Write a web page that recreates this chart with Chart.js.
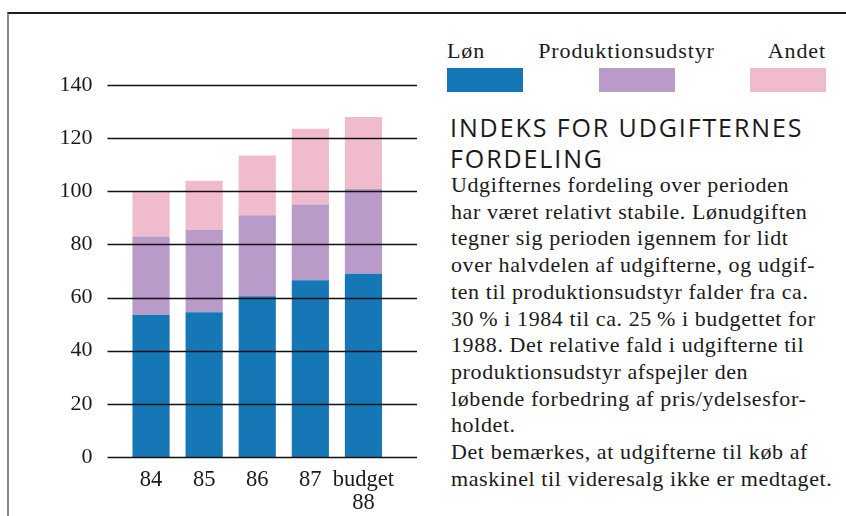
<!DOCTYPE html>
<html>
<head>
<meta charset="utf-8">
<script src="https://cdn.jsdelivr.net/npm/chart.js@4"></script>
<style>
  body { margin: 0; width: 846px; height: 516px; background: #fff; position: relative; overflow: hidden; }
  #frame { position: absolute; left: 7px; top: 12px; right: 0; bottom: -5px;
           border-top: 2px solid #1c1c1c; border-left: 2px solid #8a8a8a; }
  #chartBox { position: absolute; left: 0; top: 0; width: 440px; height: 516px; }
  #legend { position: absolute; left: 447px; top: 37.6px; width: 379px; display: flex; justify-content: space-between;
            font-family: "Liberation Serif", serif; font-size: 22px; letter-spacing: 0.9px; color: #1a1a1a; }
  #legend .item { display: flex; flex-direction: column; }
  #legend .item span { line-height: 26px; }
  #legend .sw { width: 76px; height: 24px; margin-top: 4.4px; }
  #title { position: absolute; left: 450px; top: 111.8px; font-family: "Open Sans", sans-serif; font-size: 25px;
           line-height: 31px; color: #1a1a1a; letter-spacing: 1.9px; white-space: nowrap; }
  #body { position: absolute; left: 451px; top: 172px; font-family: "Liberation Serif", serif; font-size: 22px;
          line-height: 26.7px; letter-spacing: 0.6px; color: #1a1a1a; white-space: nowrap; }
</style>
</head>
<body>
<div id="frame"></div>
<div id="chartBox"><canvas id="costChart" width="440" height="516"></canvas></div>
<div id="legend"></div>
<div id="title">INDEKS FOR UDGIFTERNES<br>FORDELING</div>
<div id="body">
Udgifternes fordeling over perioden<br>
har været relativt stabile. Lønudgiften<br>
tegner sig perioden igennem for lidt<br>
over halvdelen af udgifterne, og udgif-<br>
ten til produktionsudstyr falder fra ca.<br>
30&#8201;% i 1984 til ca. 25&#8201;% i budgettet for<br>
1988. Det relative fald i udgifterne til<br>
produktionsudstyr afspejler den<br>
løbende forbedring af pris/ydelsesfor-<br>
holdet.<br>
Det bemærkes, at udgifterne til køb af<br>
maskinel til videresalg ikke er medtaget.
</div>
<script>
const categories = [["84"], ["85"], ["86"], ["87"], ["budget", "88"]];
const seriesNames = ["Løn", "Produktionsudstyr", "Andet"];
const lonValues = [53.5, 54.5, 60.5, 66.5, 69];
const udstyrValues = [29.5, 31, 30.5, 28.5, 32];
const andetValues = [17, 18.5, 22.5, 28.5, 27];
const seriesColors = ["#1677b7", "#b89bc9", "#f0bccd"];

const serif = "'Liberation Serif', serif";

// horizontal rules run past the bars on both sides and sit on top of them
const rulesPlugin = {
    id: "rules",
    afterDatasetsDraw(chart) {
        const { ctx, chartArea, scales } = chart;
        ctx.save();
        ctx.strokeStyle = "#111";
        ctx.lineWidth = 1.6;
        scales.y.ticks.forEach(t => {
            const y = Math.round(scales.y.getPixelForValue(t.value)) + 0.5;
            ctx.beginPath();
            ctx.moveTo(chartArea.left - 17, y);
            ctx.lineTo(chartArea.right + 27, y);
            ctx.stroke();
        });
        ctx.restore();
    }
};

const ctx = document.getElementById("costChart").getContext("2d");
const costChart = new Chart(ctx, {
    type: "bar",
    data: {
        labels: categories,
        datasets: [
            { label: seriesNames[0], data: lonValues, backgroundColor: seriesColors[0] },
            { label: seriesNames[1], data: udstyrValues, backgroundColor: seriesColors[1] },
            { label: seriesNames[2], data: andetValues, backgroundColor: seriesColors[2] }
        ]
    },
    options: {
        responsive: false,
        animation: false,
        layout: { padding: { left: 60, right: 50, top: 85, bottom: 0 } },
        datasets: { bar: { categoryPercentage: 1, barPercentage: 0.7 } },
        plugins: { legend: { display: false }, tooltip: { enabled: false } },
        scales: {
            x: {
                stacked: true,
                grid: { display: false, drawTicks: false },
                border: { display: false },
                ticks: {
                    color: "#1a1a1a", font: { family: serif, size: 22.5, lineHeight: 1.0 }, padding: 12,
                    autoSkip: false, maxRotation: 0, minRotation: 0
                },
                afterFit: s => { s.height = 59; }
            },
            y: {
                stacked: true,
                min: 0,
                max: 140,
                grid: { display: false, drawTicks: false },
                border: { display: false },
                ticks: { stepSize: 20, color: "#1a1a1a", font: { family: serif, size: 22 }, padding: 32 },
                afterFit: s => { s.width = 64.5; }
            }
        }
    },
    plugins: [rulesPlugin]
});

// legend built from the series names and colours
const legend = document.getElementById("legend");
seriesNames.forEach((name, i) => {
    const item = document.createElement("div");
    item.className = "item";
    item.style.alignItems = i === 0 ? "flex-start" : (i === 1 ? "center" : "flex-end");
    const label = document.createElement("span");
    label.textContent = name;
    if (i === 1) { label.style.position = "relative"; label.style.left = "-10px"; }
    const sw = document.createElement("div");
    sw.className = "sw";
    sw.style.background = seriesColors[i];
    item.appendChild(label);
    item.appendChild(sw);
    legend.appendChild(item);
});
</script>
</body>
</html>
